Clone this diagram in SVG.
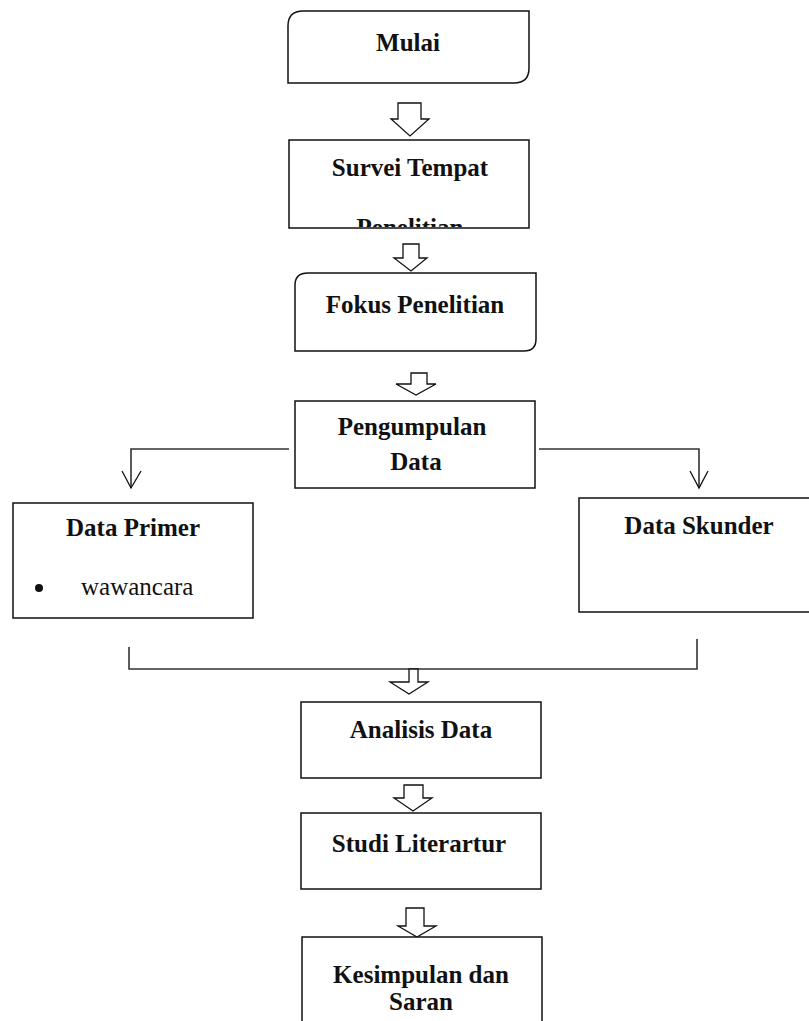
<svg xmlns="http://www.w3.org/2000/svg" width="809" height="1021" viewBox="0 0 809 1021">
<style>
.box{fill:#fff;stroke:#111;stroke-width:1.5}
.t{font-family:"Liberation Serif","Times New Roman",serif;font-size:25px;font-weight:bold;fill:#111;text-anchor:middle}
.r{font-family:"Liberation Serif","Times New Roman",serif;font-size:25px;fill:#111}
.blk{fill:#fff;stroke:#111;stroke-width:1.3;stroke-linejoin:miter}
.ln{fill:none;stroke:#333;stroke-width:1.6}
.hd{fill:none;stroke:#111;stroke-width:1.3}
</style>
<defs>
<clipPath id="clipSurvei"><rect x="289" y="140" width="240" height="87"/></clipPath>
</defs>
<rect width="809" height="1021" fill="#fff"/>
<g id="connectors">
<polygon class="blk" points="398,103 421,103 421,119 429,119 410,136 391,119 398,119"/>
<polygon class="blk" points="403,244 419,244 419,258 427,258 411,271 394,258 403,258"/>
<polygon class="blk" points="411,373 427,373 427,384 436,384 416,395 396,384 411,384"/>
<polyline class="ln" points="289,449 131,449 131,488"/>
<polyline class="hd" points="122,471 131,488 141,471"/>
<polyline class="ln" points="539,449 699,449 699,488"/>
<polyline class="hd" points="690,471 699,488 708,471"/>
<polyline class="ln" points="129,647 129,669 697,669 697,639"/>
<polygon class="blk" points="409,669 418,669 418,682 428,682 409,694 390,682 409,682"/>
<polygon class="blk" points="404,785 423,785 423,798 432,798 413,811 394,798 404,798"/>
<polygon class="blk" points="406,908 424,908 424,926 436,926 417,937 398,926 406,926"/>
</g>
<g id="mulai">
<path class="box" d="M303,11 H529 V68 Q529,83 514,83 H288 V26 Q288,11 303,11 Z"/>
<text class="t" x="408" y="51">Mulai</text>
</g>
<g id="survei">
<rect class="box" x="289" y="140" width="240" height="88"/>
<text class="t" x="410" y="176">Survei Tempat</text>
<text class="t" x="410" y="236" clip-path="url(#clipSurvei)">Penelitian</text>
</g>
<g id="fokus">
<path class="box" d="M308,273 H536 V339 Q536,351 524,351 H295 V285 Q295,273 308,273 Z"/>
<text class="t" x="415" y="313">Fokus Penelitian</text>
</g>
<g id="pengumpulan">
<rect class="box" x="295" y="401" width="240" height="87"/>
<text class="t" x="412" y="435">Pengumpulan</text>
<text class="t" x="416" y="470">Data</text>
</g>
<g id="data-primer">
<rect class="box" x="13" y="503" width="240" height="115"/>
<text class="t" x="133" y="536">Data Primer</text>
<circle cx="39" cy="588" r="4" fill="#111"/>
<text class="r" x="81" y="595">wawancara</text>
</g>
<g id="data-skunder">
<rect class="box" x="579" y="498" width="240" height="114"/>
<text class="t" x="699" y="534">Data Skunder</text>
</g>
<g id="analisis">
<rect class="box" x="301" y="702" width="240" height="76"/>
<text class="t" x="421" y="738">Analisis Data</text>
</g>
<g id="studi">
<rect class="box" x="301" y="813" width="240" height="76"/>
<text class="t" x="419" y="852">Studi Literartur</text>
</g>
<g id="kesimpulan">
<rect class="box" x="302" y="937" width="240" height="90"/>
<text class="t" x="421" y="983">Kesimpulan dan</text>
<text class="t" x="421" y="1010">Saran</text>
</g>
</svg>
